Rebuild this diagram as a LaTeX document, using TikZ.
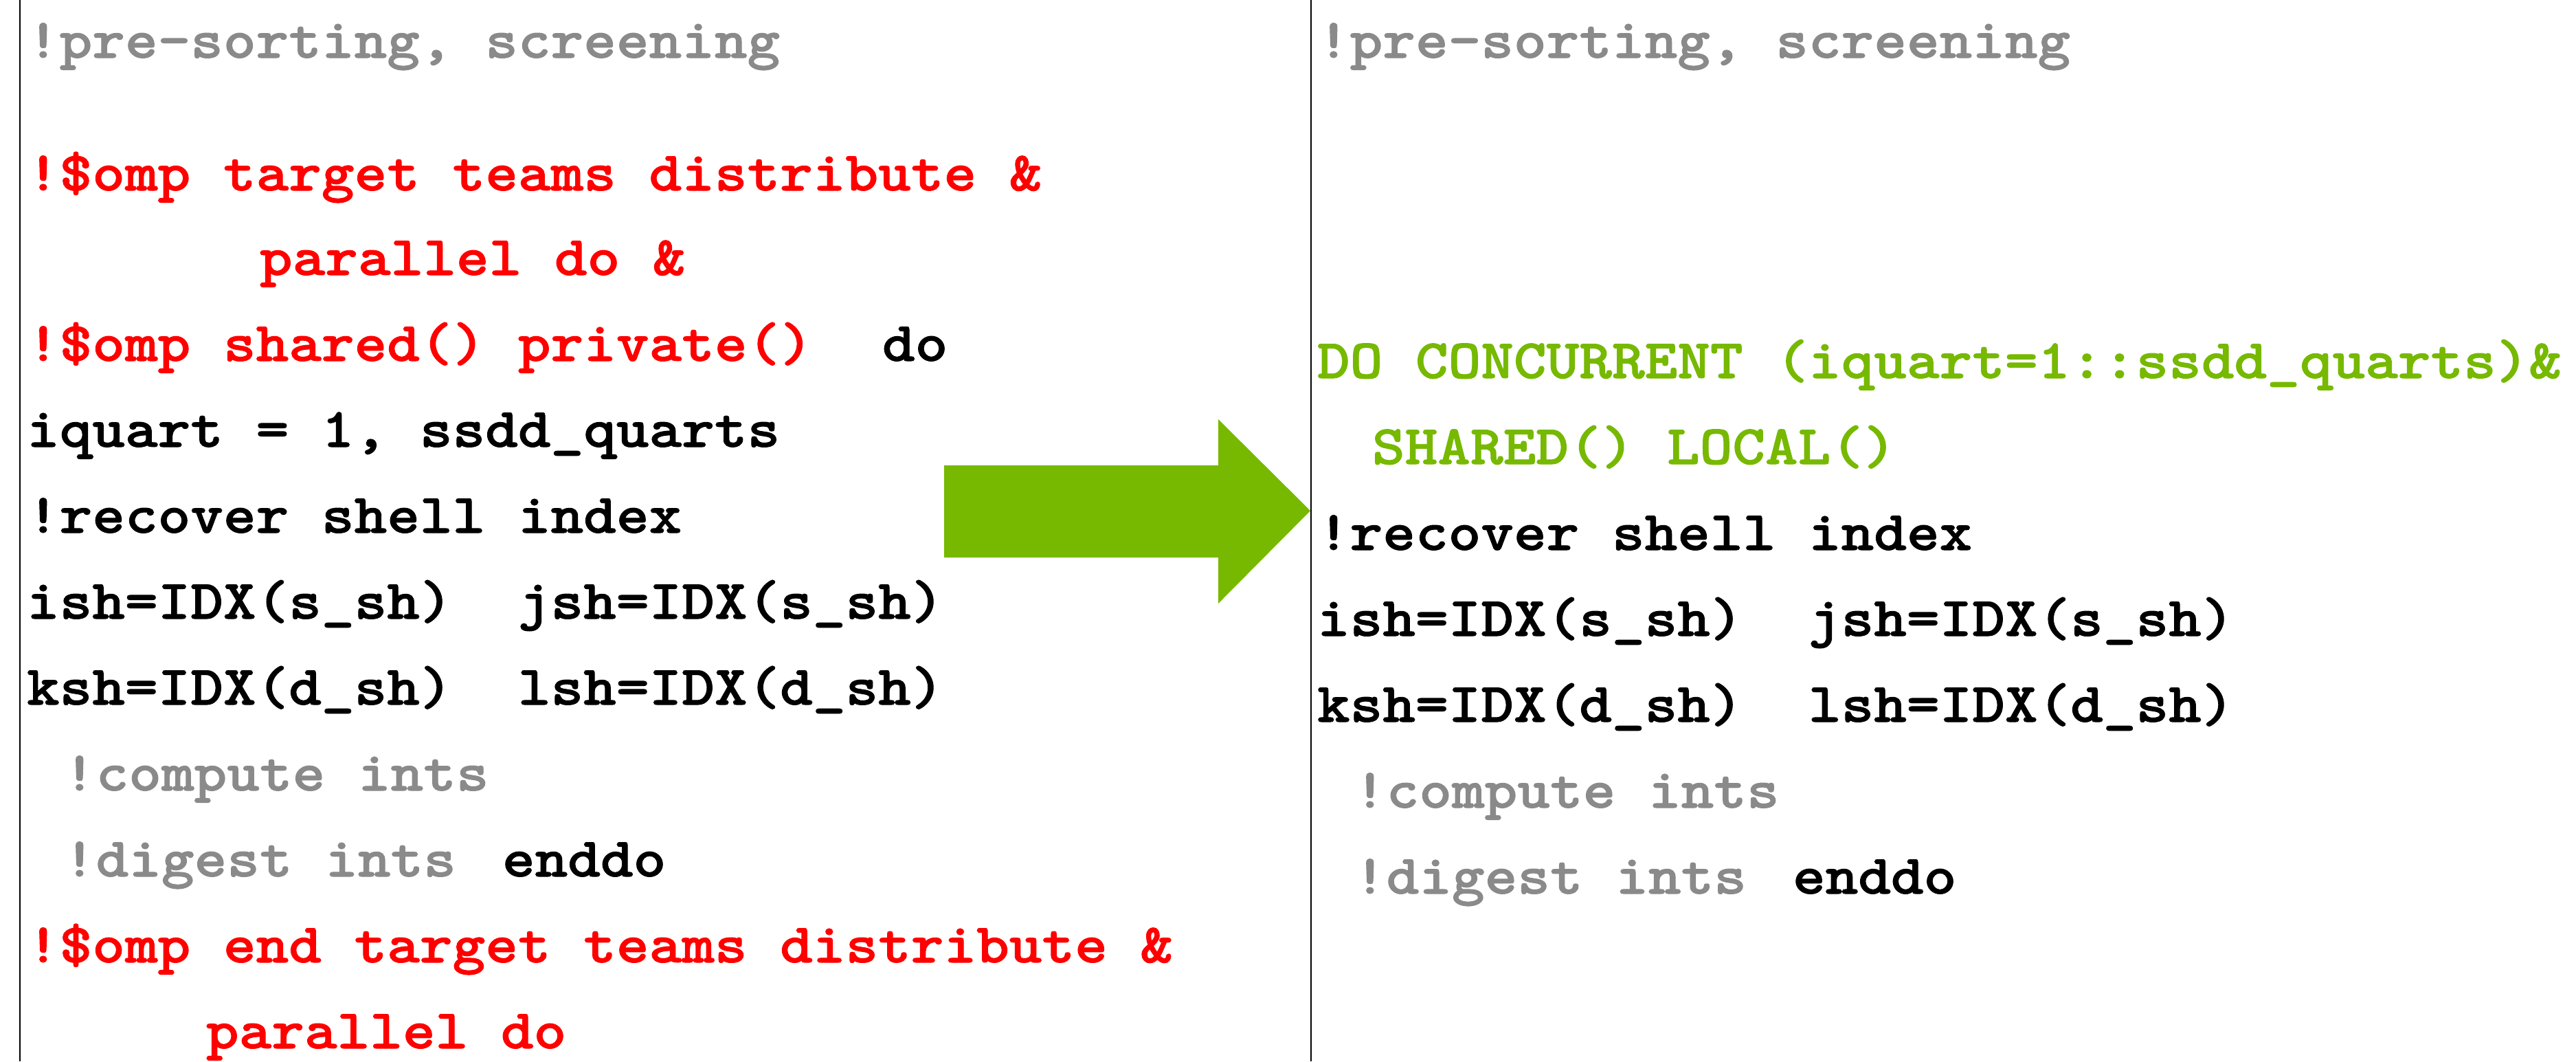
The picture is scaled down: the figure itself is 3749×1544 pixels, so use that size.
\documentclass[tikz,border=0pt]{standalone}
\usepackage{fontspec}
% heavy slab typewriter face, widened to a 0.6em-like pitch
\newfontfamily\codefont[FakeStretch=1.12, FakeBold=1.2]{lmmonolt10-bold.otf}
\definecolor{cmtgray}{HTML}{8A8A8A}
\definecolor{ompred}{HTML}{FF0000}
\definecolor{dcgreen}{HTML}{76B900}
\begin{document}
\begin{tikzpicture}[x=0.01cm,y=-0.01cm,
  code/.style={anchor=base west, inner sep=0pt, outer sep=0pt,
    font=\codefont\fontsize{23.05pt}{23.05pt}\selectfont, text=black},
  cmt/.style={code, text=cmtgray},
  omp/.style={code, text=ompred},
  dc/.style={code, text=dcgreen},
  divider/.style={draw=black, line width=0.65pt},
  bigarrow/.style={fill=dcgreen, draw=none}]
\useasboundingbox (0,0) rectangle (3749,1544);
\fill[white] (0,0) rectangle (3749,1544);

% column dividers
\draw[divider] (29,0) -- (29,1544);
\draw[divider] (1908,0) -- (1908,1544);

% block arrow between the two versions
\fill[bigarrow] (1374,677) -- (1773,677) -- (1773,610) -- (1907,743)
  -- (1773,878) -- (1773,811) -- (1374,811) -- cycle;

% OpenMP offload version
\node[cmt]  (lpre)   at (39,84)    {!pre-sorting, screening};
\node[omp]  (lomp1)  at (39,277)   {!\$omp target teams distribute \&};
\node[omp]  (lomp1b) at (378,400)  {parallel do \&};
\node[omp]  (lomp2)  at (39,525)   {!\$omp shared() private()};
\node[code] (ldo)    at (1284,525) {do};
\node[code] (lloop)  at (39,650)   {iquart = 1, ssdd\_quarts};
\node[code] (lrec)   at (39,775)   {!recover shell index};
\node[code] (lij)    at (39,900)   {ish=IDX(s\_sh)\ \ jsh=IDX(s\_sh)};
\node[code] (lkl)    at (39,1025)  {ksh=IDX(d\_sh)\ \ lsh=IDX(d\_sh)};
\node[cmt]  (lcomp)  at (92,1150)  {!compute ints};
\node[cmt]  (ldig)   at (92,1275)  {!digest ints};
\node[code] (lend)   at (731,1275) {enddo};
\node[omp]  (lomp3)  at (39,1400)  {!\$omp end target teams distribute \&};
\node[omp]  (lomp3b) at (300,1525) {parallel do};

% DO CONCURRENT version
\node[cmt]  (rpre)   at (1917,84)   {!pre-sorting, screening};
\node[dc]   (rdc)    at (1917,550)  {DO CONCURRENT (iquart=1::ssdd\_quarts)\&};
\node[dc]   (rdcb)   at (1997,675)  {SHARED() LOCAL()};
\node[code] (rrec)   at (1917,800)  {!recover shell index};
\node[code] (rij)    at (1917,925)  {ish=IDX(s\_sh)\ \ jsh=IDX(s\_sh)};
\node[code] (rkl)    at (1917,1050) {ksh=IDX(d\_sh)\ \ lsh=IDX(d\_sh)};
\node[cmt]  (rcomp)  at (1970,1175) {!compute ints};
\node[cmt]  (rdig)   at (1970,1300) {!digest ints};
\node[code] (rend)   at (2609,1300) {enddo};
\end{tikzpicture}
\end{document}
